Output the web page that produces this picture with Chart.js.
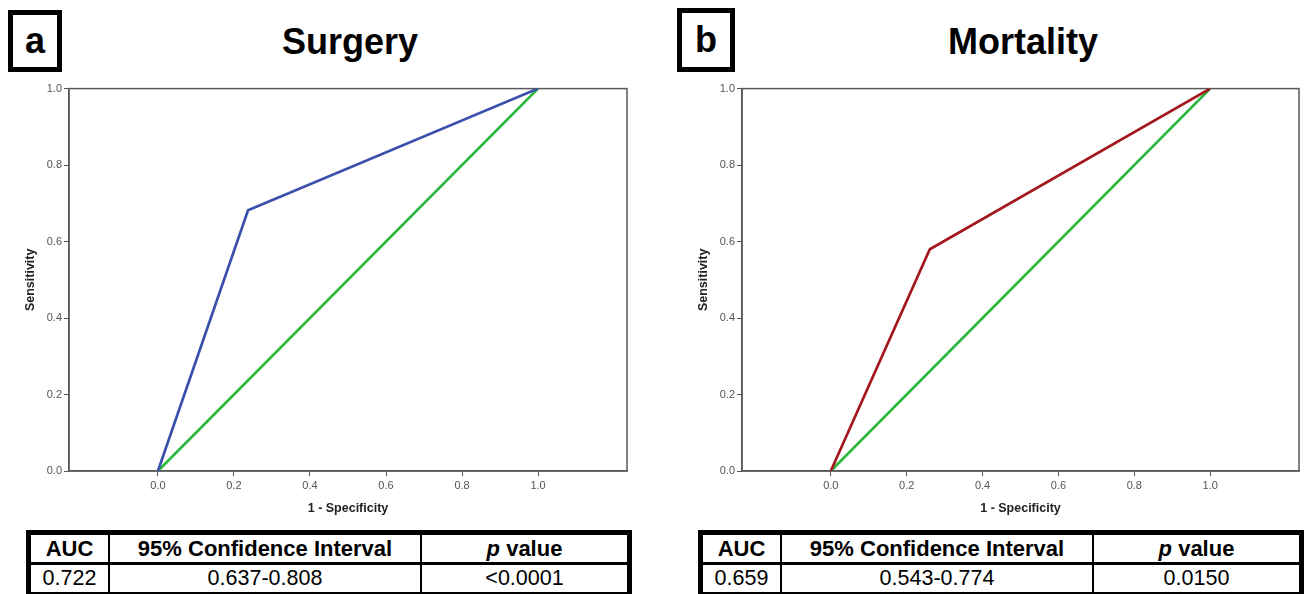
<!DOCTYPE html>
<html><head><meta charset="utf-8">
<script src="https://cdn.jsdelivr.net/npm/chart.js@4.4.1/dist/chart.umd.min.js"></script>
<style>
html,body{margin:0;padding:0;background:#fff;width:1306px;height:594px;overflow:hidden;font-family:"Liberation Sans",Arial,sans-serif;color:#000;}
.lbl{position:absolute;box-sizing:border-box;border:5px solid #000;font-weight:bold;font-size:36px;display:flex;align-items:center;justify-content:center;line-height:1;}
.title{position:absolute;font-weight:bold;font-size:36px;line-height:40px;text-align:center;width:400px;}
.tbl{position:absolute;box-sizing:border-box;border:5px solid #000;border-bottom:2px solid #000;width:606px;height:64px;}
.row{display:flex;height:27px;}
.row.hdr{border-bottom:3px solid #000;font-weight:bold;font-size:22px;}
.row.dat{font-size:21.5px;}
.cell{box-sizing:border-box;display:flex;align-items:center;justify-content:center;white-space:nowrap;}
.c1{width:79px;border-right:2px solid #000;}
.c2{width:312px;border-right:2px solid #000;}
.c3{flex:1;}
.cv{position:absolute;}
</style></head>
<body>
<div class="lbl" style="left:8px;top:10px;width:54px;height:62px;">a</div>
<div class="title" id="titleA" style="left:150px;top:22px;"></div>
<div class="lbl" style="left:677px;top:8px;width:58px;height:64px;">b</div>
<div class="title" id="titleB" style="left:823px;top:22px;"></div>

<canvas id="chartA" class="cv" width="650" height="440" style="left:0px;top:80px;width:650px;height:440px;"></canvas>
<canvas id="chartB" class="cv" width="633" height="440" style="left:673px;top:80px;width:633px;height:440px;"></canvas>

<div class="tbl" id="tblA" style="left:26px;top:530px;"></div>
<div class="tbl" id="tblB" style="left:698px;top:530px;"></div>

<script>
// ---- data ----
const panelTitles = ['Surgery', 'Mortality'];
const xTicks = [0, 0.2, 0.4, 0.6, 0.8, 1.0];
const yTicks = [0, 0.2, 0.4, 0.6, 0.8, 1.0];
const surgeryFPR = [0, 0.237, 1.0];
const surgerySens = [0, 0.682, 1.0];
const mortalityFPR = [0, 0.261, 1.0];
const mortalitySens = [0, 0.580, 1.0];
const refFPR = [0, 1.0];
const refSens = [0, 1.0];
const tableHeaders = ['AUC', '95% Confidence Interval', 'p value'];
const surgeryStats = ['0.722', '0.637-0.808', '<0.0001'];
const mortalityStats = ['0.659', '0.543-0.774', '0.0150'];

// ---- text ----
document.getElementById('titleA').textContent = panelTitles[0];
document.getElementById('titleB').textContent = panelTitles[1];

function buildTable(el, stats) {
  const hdr = document.createElement('div'); hdr.className = 'row hdr';
  const dat = document.createElement('div'); dat.className = 'row dat';
  ['c1','c2','c3'].forEach((c, i) => {
    const h = document.createElement('div'); h.className = 'cell ' + c;
    if (i === 2) {
      const parts = tableHeaders[2].split(' ');
      const it = document.createElement('i'); it.textContent = parts[0];
      h.appendChild(it); h.appendChild(document.createTextNode('\u00a0' + parts.slice(1).join(' ')));
    } else h.textContent = tableHeaders[i];
    hdr.appendChild(h);
    const d = document.createElement('div'); d.className = 'cell ' + c; d.textContent = stats[i];
    dat.appendChild(d);
  });
  el.appendChild(hdr); el.appendChild(dat);
}
buildTable(document.getElementById('tblA'), surgeryStats);
buildTable(document.getElementById('tblB'), mortalityStats);

// ---- charts ----
const FONT = '"Liberation Sans", Arial, sans-serif';
const framePlugin = {
  id: 'frame',
  beforeDatasetsDraw(chart) {
    const {ctx, chartArea: a} = chart;
    ctx.save();
    ctx.strokeStyle = '#5a5a5a';
    ctx.lineWidth = 1.5;
    ctx.strokeRect(a.left, a.top, a.right - a.left, a.bottom - a.top);
    ctx.restore();
  }
};

function pts(xs, ys) { return xs.map((x, i) => ({x: x, y: ys[i]})); }

function makeChart(id, xs, ys, color, rightPad) {
  new Chart(document.getElementById(id), {
    type: 'line',
    data: {
      datasets: [
        {data: pts(xs, ys), borderColor: color, borderWidth: 2.7, pointRadius: 0, tension: 0, fill: false},
        {data: pts(refFPR, refSens), borderColor: '#2db83d', borderWidth: 2.7, pointRadius: 0, tension: 0, fill: false}
      ]
    },
    options: {
      responsive: false,
      animation: false,
      events: [],
      layout: {padding: {top: 8, left: 0, right: rightPad, bottom: 0}},
      plugins: {legend: {display: false}, tooltip: {enabled: false}},
      scales: {
        x: {
          type: 'linear', min: -0.234, max: 1.234,
          afterBuildTicks: s => { s.ticks = xTicks.map(v => ({value: v})); },
          afterFit: s => { s.height = 49; },
          ticks: {callback: v => Number(v).toFixed(1), font: {size: 11, family: FONT}, color: '#555', padding: 3, maxRotation: 0, autoSkip: false},
          grid: {drawOnChartArea: false, drawTicks: true, tickLength: 5, color: '#555', lineWidth: 1},
          border: {display: true, color: '#5a5a5a', width: 1.5},
          title: {display: true, text: '1 - Specificity', font: {size: 12.5, weight: 'bold', family: FONT}, color: '#222', padding: {top: 0, bottom: 4}}
        },
        y: {
          type: 'linear', min: 0, max: 1,
          afterBuildTicks: s => { s.ticks = yTicks.map(v => ({value: v})); },
          afterFit: s => { s.width = 69; },
          ticks: {callback: v => Number(v).toFixed(1), font: {size: 11, family: FONT}, color: '#555', padding: 2, autoSkip: false},
          grid: {drawOnChartArea: false, drawTicks: true, tickLength: 5, color: '#555', lineWidth: 1},
          border: {display: true, color: '#5a5a5a', width: 1.5},
          title: {display: true, text: 'Sensitivity', font: {size: 12.5, weight: 'bold', family: FONT}, color: '#222', padding: {top: 23, bottom: 0}}
        }
      }
    },
    plugins: [framePlugin]
  });
}
makeChart('chartA', surgeryFPR, surgerySens, '#3b50ab', 23);
makeChart('chartB', mortalityFPR, mortalitySens, '#a3181f', 7);
</script>
</body></html>
